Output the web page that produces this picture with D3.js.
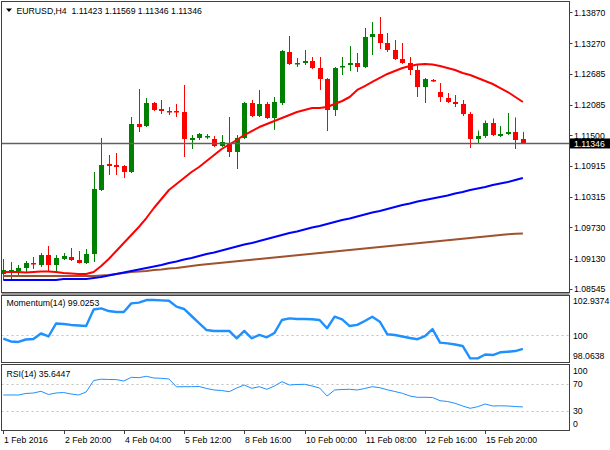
<!DOCTYPE html>
<html><head><meta charset="utf-8">
<script src="https://cdn.jsdelivr.net/npm/d3@7"></script>
<style>
body{margin:0;background:#fff}
svg{display:block}
text{font-family:"Liberation Sans",Arial,sans-serif;font-size:8.7px;fill:#000;white-space:pre}
</style>
</head><body>
<svg id="c" width="610" height="450"></svg>
<script>
// ---------- data ----------
const titleText = "EURUSD,H4  1.11423 1.11569 1.11346 1.11346";
const lastPrice = 1.11346;
const lastPriceLabel = "1.11346";
const momLabel = "Momentum(14) 99.0253";
const rsiLabel = "RSI(14) 35.6447";
const timeLabels = ["1 Feb 2016","2 Feb 20:00","4 Feb 04:00","5 Feb 12:00","8 Feb 16:00","10 Feb 00:00","11 Feb 08:00","12 Feb 16:00","15 Feb 20:00"];
const timeLabelBars = [0,8,16,24,32,40,48,56,64];
const priceTicks = [1.13870,1.13270,1.12685,1.12085,1.11500,1.10915,1.10315,1.09730,1.09130,1.08545];
const momTicks = [102.9374,100,98.0638];
const momTickLabels = ["102.9374","100","98.0638"];
const rsiTicks = [100,70,30,0];
const rsiLevels = [70,30];
const momLevel = 100;

const open = [
1.08833,1.08872,1.08891,1.08949,1.09045,1.09007,1.09199,1.09007,1.09122,1.09161,
1.09103,1.09045,1.09218,1.10450,1.10950,1.10922,1.10912,1.10796,1.11720,1.11682,
1.12124,1.12009,1.11970,1.11970,1.11951,1.11422,1.11451,1.11470,1.11431,1.11297,
1.11355,1.11181,1.11451,1.12124,1.11874,1.12105,1.11836,1.12124,1.13106,1.12875,
1.12894,1.12933,1.12798,1.12586,1.11990,1.12817,1.12856,1.12894,1.12817,1.13395,
1.13452,1.13279,1.13154,1.12971,1.12894,1.12760,1.12432,1.12567,1.12336,1.12221,
1.12144,1.12096,1.11913,1.11441,1.11480,1.11749,1.11499,1.11528,1.11557,1.11423];
const high = [
1.09122,1.09064,1.09007,1.09083,1.09161,1.09237,1.09372,1.09199,1.09237,1.09334,
1.09276,1.09314,1.10796,1.11451,1.11124,1.11162,1.10931,1.11855,1.12394,1.12221,
1.12144,1.12182,1.12047,1.12105,1.12471,1.11508,1.11547,1.11528,1.11489,1.11508,
1.11855,1.11508,1.12144,1.12182,1.12375,1.12144,1.12240,1.13144,1.13414,1.12990,
1.13144,1.13010,1.13010,1.12606,1.12817,1.13010,1.13221,1.13087,1.13568,1.13683,
1.13780,1.13472,1.13337,1.13279,1.13010,1.12856,1.12606,1.12586,1.12509,1.12317,
1.12278,1.12182,1.11951,1.11595,1.11788,1.11826,1.11682,1.11932,1.11845,1.11569];
const low = [
1.08718,1.08737,1.08776,1.08872,1.08930,1.08968,1.08891,1.08891,1.09103,1.09083,
1.09035,1.09026,1.09064,1.10431,1.10739,1.10739,1.10681,1.10777,1.11566,1.11662,
1.11970,1.11913,1.11893,1.11855,1.11085,1.11239,1.11412,1.11431,1.11278,1.11278,
1.11085,1.10854,1.11431,1.11855,1.11855,1.11816,1.11605,1.12086,1.12856,1.12817,
1.12856,1.12779,1.12375,1.11585,1.11874,1.12663,1.12740,1.12721,1.12798,1.13048,
1.13164,1.13106,1.12952,1.12875,1.12663,1.12240,1.12124,1.12529,1.12144,1.12124,
1.12047,1.11874,1.11258,1.11355,1.11451,1.11489,1.11470,1.11508,1.11239,1.11346];
const close = [
1.08910,1.08910,1.08949,1.09045,1.09026,1.09199,1.09007,1.09141,1.09180,1.09103,
1.09045,1.09218,1.10469,1.10931,1.10912,1.10893,1.10796,1.11720,1.11662,1.12124,
1.11990,1.11970,1.11951,1.11942,1.11431,1.11451,1.11528,1.11489,1.11297,1.11374,
1.11181,1.11451,1.12124,1.11874,1.12105,1.11836,1.12144,1.13125,1.12875,1.12894,
1.12933,1.12798,1.12586,1.11990,1.12798,1.12837,1.12894,1.12817,1.13395,1.13452,
1.13279,1.13144,1.12971,1.12894,1.12769,1.12432,1.12577,1.12548,1.12240,1.12144,
1.12096,1.11913,1.11441,1.11480,1.11749,1.11508,1.11528,1.11557,1.11412,1.11346];

const maRed = [
1.08872,1.08872,1.08872,1.08862,1.08872,1.08882,1.08882,1.08872,1.08853,1.08843,
1.08833,1.08833,1.08872,1.08987,1.09122,1.09276,1.09430,1.09584,1.09738,1.09911,
1.10104,1.10277,1.10450,1.10565,1.10681,1.10796,1.10893,1.11008,1.11124,1.11239,
1.11326,1.11412,1.11508,1.11585,1.11662,1.11720,1.11778,1.11836,1.11893,1.11951,
1.11990,1.12028,1.12028,1.12047,1.12105,1.12163,1.12240,1.12375,1.12451,1.12529,
1.12606,1.12683,1.12740,1.12798,1.12837,1.12865,1.12875,1.12865,1.12837,1.12798,
1.12760,1.12702,1.12663,1.12606,1.12548,1.12490,1.12413,1.12336,1.12240,1.12144];
const maBlue = [
1.08718,1.08718,1.08718,1.08718,1.08718,1.08718,1.08718,1.08718,1.08737,1.08737,
1.08737,1.08737,1.08756,1.08776,1.08804,1.08833,1.08862,1.08891,1.08920,1.08949,
1.08978,1.09007,1.09045,1.09074,1.09112,1.09141,1.09180,1.09218,1.09247,1.09286,
1.09324,1.09363,1.09401,1.09430,1.09468,1.09507,1.09545,1.09584,1.09622,1.09651,
1.09690,1.09728,1.09757,1.09796,1.09834,1.09873,1.09901,1.09940,1.09979,1.10017,
1.10046,1.10084,1.10123,1.10161,1.10190,1.10229,1.10258,1.10286,1.10315,1.10344,
1.10383,1.10412,1.10450,1.10479,1.10508,1.10546,1.10575,1.10604,1.10642,1.10681];
const maBrown = [
1.08795,1.08795,1.08795,1.08795,1.08795,1.08795,1.08795,1.08795,1.08795,1.08795,
1.08795,1.08795,1.08795,1.08804,1.08814,1.08833,1.08853,1.08872,1.08882,1.08891,
1.08910,1.08920,1.08939,1.08949,1.08968,1.08987,1.09007,1.09020,1.09036,1.09051,
1.09064,1.09080,1.09093,1.09109,1.09122,1.09137,1.09151,1.09166,1.09180,1.09195,
1.09209,1.09224,1.09237,1.09253,1.09266,1.09282,1.09295,1.09311,1.09324,1.09340,
1.09353,1.09368,1.09382,1.09397,1.09411,1.09426,1.09440,1.09455,1.09468,1.09484,
1.09497,1.09513,1.09526,1.09542,1.09555,1.09571,1.09584,1.09598,1.09607,1.09613];

const momentum = [
99.77,99.56,99.52,99.70,99.74,100.14,99.92,100.86,100.83,100.76,
100.72,100.68,101.88,101.96,101.77,101.70,101.70,102.33,102.38,102.57,
102.57,102.55,102.52,102.09,101.92,101.41,100.90,100.39,100.32,100.32,
100.32,99.79,100.32,99.79,100.03,99.86,100.17,101.12,101.24,101.19,
101.19,101.17,101.12,100.52,101.36,101.17,100.68,100.76,101.05,101.36,
101.00,100.08,100.03,99.92,99.81,99.72,99.95,100.46,99.47,99.42,
99.34,99.23,98.33,98.33,98.61,98.57,98.77,98.81,98.86,99.0253];
const rsi = [
53.56,53.56,53.56,55.81,56.55,59.10,54.31,56.55,57.30,55.06,
53.56,58.05,75.28,77.23,76.78,76.63,74.53,80.08,79.48,81.57,
79.03,78.58,77.53,65.84,65.99,65.99,66.29,63.30,61.05,60.30,
58.50,64.05,68.54,63.60,65.99,62.10,67.04,73.48,68.54,69.29,
69.59,67.04,64.05,52.06,61.05,61.80,62.10,61.05,63.30,65.99,
64.50,61.35,58.80,56.11,52.06,50.11,50.11,49.81,45.02,43.82,
41.12,37.08,33.63,36.03,40.08,37.08,37.38,37.08,36.33,35.6447];

// ---------- layout ----------
const L = 1.5, R = 569.5;
const main = {top:1.5, bottom:292.5};
const mom = {top:295.5, bottom:362.5};
const rs = {top:364.5, bottom:430.5};
const axisX = 574;

const svg = d3.select("#c");
const defs = svg.append("defs");
defs.append("clipPath").attr("id","cm").append("rect")
  .attr("x",L+0.5).attr("y",main.top+0.5).attr("width",R-L-1).attr("height",main.bottom-main.top-1);
defs.append("clipPath").attr("id","cmo").append("rect")
  .attr("x",L+0.5).attr("y",mom.top+0.5).attr("width",R-L-1).attr("height",mom.bottom-mom.top-1);
defs.append("clipPath").attr("id","cr").append("rect")
  .attr("x",L+0.5).attr("y",rs.top+0.5).attr("width",R-L-1).attr("height",rs.bottom-rs.top-1);

const n = open.length;
const x = d3.scaleLinear().domain([0, n-1]).range([3.3, 3.3 + 7.53*(n-1)]);
const y = d3.scaleLinear().domain([1.08545, 1.13870]).range([289, 12.3]);
const ym = d3.scaleLinear().domain([98.0638, 102.9374]).range([362, 295]);
const yr = d3.scaleLinear().domain([0, 100]).range([430.75, 364]);

// separator band
svg.append("rect").attr("x",L).attr("y",main.bottom).attr("width",R-L).attr("height",mom.top-main.bottom).attr("fill","#9a9a9a");

// ---------- main panel ----------
const gm = svg.append("g").attr("clip-path","url(#cm)");
const bars = d3.range(n).map(i => ({i, o:open[i], h:high[i], l:low[i], c:close[i]}));
const col = d => d.c >= d.o ? "#008000" : "#ff0000";
const cx = d => Math.round(x(d.i));

// moving averages (drawn under candles? MT4 draws indicators over)
gm.selectAll("line.wick").data(bars).join("line")
  .attr("x1", d => cx(d)+0.5).attr("x2", d => cx(d)+0.5)
  .attr("y1", d => y(d.h)).attr("y2", d => y(d.l))
  .attr("stroke", col).attr("stroke-width",1);
gm.selectAll("rect.body").data(bars).join("rect")
  .attr("x", d => cx(d)-2).attr("width",5)
  .attr("y", d => Math.round(y(Math.max(d.o,d.c))))
  .attr("height", d => Math.max(1.5, Math.round(y(Math.min(d.o,d.c))) - Math.round(y(Math.max(d.o,d.c)))))
  .attr("fill", col);

const lineOf = (arr, sc) => d3.line().x((v,i) => x(i)).y(v => sc(v))(arr);
[[maBrown,"#a0522d"],[maBlue,"#0000ff"],[maRed,"#ff0000"]].forEach(([arr,c]) => {
  gm.append("path").attr("d", lineOf(arr, y)).attr("fill","none").attr("stroke",c).attr("stroke-width",2).attr("stroke-linejoin","round");
});

// current price line
svg.append("line").attr("x1",L).attr("x2",R).attr("y1",y(lastPrice)).attr("y2",y(lastPrice))
  .attr("stroke","#606060").attr("stroke-width",1.5);

// ---------- momentum panel ----------
const gmo = svg.append("g").attr("clip-path","url(#cmo)");
gmo.append("line").attr("x1",L).attr("x2",R).attr("y1",Math.round(ym(momLevel))+0.5).attr("y2",Math.round(ym(momLevel))+0.5)
  .attr("stroke","#c0c0c0").attr("stroke-dasharray","2,3");
gmo.append("path").attr("d", lineOf(momentum, ym)).attr("fill","none").attr("stroke","#1e90ff").attr("stroke-width",2.4).attr("stroke-linejoin","round");

// ---------- RSI panel ----------
const gr = svg.append("g").attr("clip-path","url(#cr)");
gr.selectAll("line.lvl").data(rsiLevels).join("line")
  .attr("x1",L).attr("x2",R).attr("y1",v=>Math.round(yr(v))+0.5).attr("y2",v=>Math.round(yr(v))+0.5)
  .attr("stroke","#c0c0c0").attr("stroke-dasharray","2,3");
gr.append("path").attr("d", lineOf(rsi, yr)).attr("fill","none").attr("stroke","#1e90ff").attr("stroke-width",1);

// ---------- frames ----------
[main, mom, rs].forEach(p => {
  svg.append("rect").attr("x",L).attr("y",p.top).attr("width",R-L).attr("height",p.bottom-p.top)
    .attr("fill","none").attr("stroke","#404040").attr("stroke-width",1);
});

// ---------- right axes ----------
const ra = svg.append("g");
ra.selectAll("line.pt").data(priceTicks).join("line")
  .attr("x1",R).attr("x2",R+3).attr("y1",v=>Math.round(y(v))+0.5).attr("y2",v=>Math.round(y(v))+0.5).attr("stroke","#404040");
ra.selectAll("text.pt").data(priceTicks).join("text")
  .attr("x",axisX).attr("y",v=>y(v)+3.2).text(v=>v.toFixed(5));

// price tag
ra.append("rect").attr("x",R+0.5).attr("y",y(lastPrice)-5).attr("width",610-R).attr("height",10).attr("fill","#000");
ra.append("text").attr("x",axisX).attr("y",y(lastPrice)+3.2).style("fill","#fff").text(lastPriceLabel);

// momentum labels
ra.selectAll("text.mt").data(momTicks).join("text")
  .attr("x",axisX-1)
  .attr("y",(v,i)=> ym(v) + 3.2 + (i===0 ? 6 : (i===momTicks.length-1 ? -6 : 0)))
  .text((v,i)=>momTickLabels[i]);

// RSI labels
ra.selectAll("text.rt").data(rsiTicks).join("text")
  .attr("x",axisX-1)
  .attr("y",v=> yr(v) + 3.2 + (v===100 ? 7 : (v===0 ? -6.5 : 0)))
  .text(v=>String(v));

// ---------- time axis ----------
const ta = svg.append("g");
ta.selectAll("line.tt").data(timeLabelBars).join("line")
  .attr("x1",b=>Math.round(x(b))+0.5).attr("x2",b=>Math.round(x(b))+0.5)
  .attr("y1",rs.bottom).attr("y2",rs.bottom+3.5).attr("stroke","#404040");
ta.selectAll("text.tl").data(timeLabelBars).join("text")
  .attr("x",b=>Math.round(x(b))+1).attr("y",442.5).text((b,i)=>timeLabels[i]);

// ---------- titles ----------
svg.append("path").attr("d","M6,8.5 L12,8.5 L9,12 Z").attr("fill","#000");
svg.append("text").attr("x",16.5).attr("y",14).text(titleText);
svg.append("text").attr("x",6.5).attr("y",306).text(momLabel);
svg.append("text").attr("x",6.5).attr("y",376.5).text(rsiLabel);
</script>
</body></html>
